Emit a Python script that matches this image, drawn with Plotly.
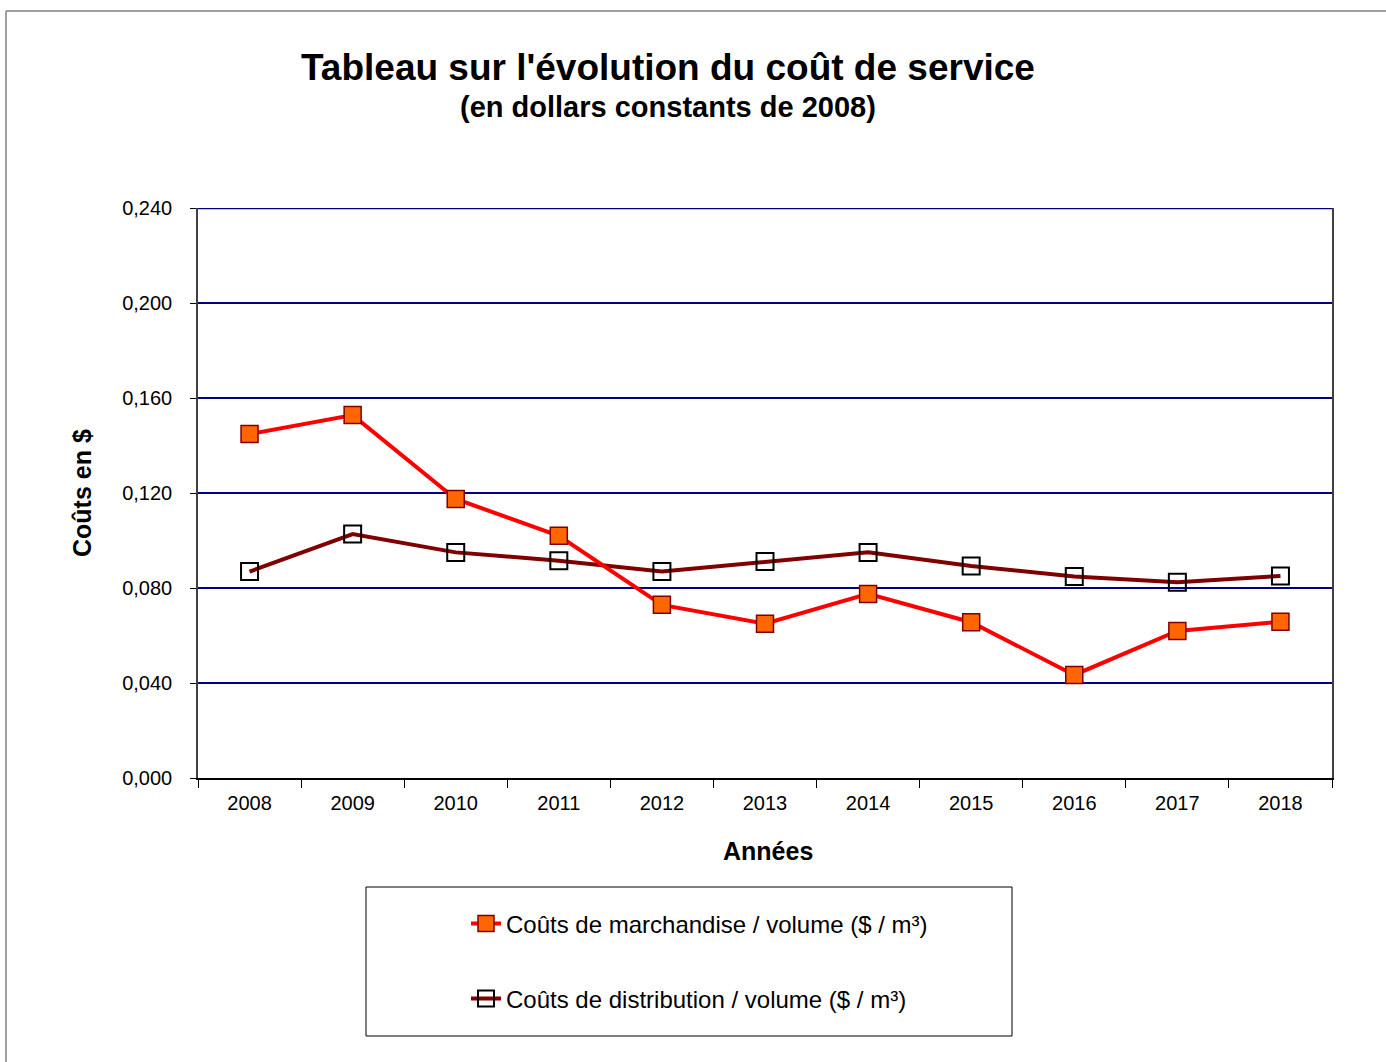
import plotly.graph_objects as go

years = ["2008", "2009", "2010", "2011", "2012", "2013", "2014", "2015", "2016", "2017", "2018"]
marchandise = [0.1448, 0.1528, 0.1175, 0.1020, 0.0729, 0.0650, 0.0775, 0.0656, 0.0434, 0.0619, 0.0658]
distribution = [0.0869, 0.1027, 0.0950, 0.0915, 0.0870, 0.0912, 0.0950, 0.0893, 0.0848, 0.0824, 0.0851]
y_ticks = [0.0, 0.04, 0.08, 0.12, 0.16, 0.20, 0.24]

name_m = "Coûts de marchandise / volume ($ / m³)"
name_d = "Coûts de distribution / volume ($ / m³)"

W, H = 1386, 1062
L, R, T, B = 198, 1332, 208, 778
pw, ph = R - L, B - T


def px(x):
    return (x - L) / pw


def py(y):
    return (B - y) / ph


FONT = "Liberation Sans, Arial, sans-serif"

fig = go.Figure()
fig.add_trace(go.Scatter(
    x=years, y=distribution, name=name_d, mode="lines+markers",
    line=dict(color="#800000", width=4),
    marker=dict(symbol="square-open", size=17, color="#000000", line=dict(width=2, color="#000000")),
    legend="legend2",
))
fig.add_trace(go.Scatter(
    x=years, y=marchandise, name=name_m, mode="lines+markers",
    line=dict(color="#FF0000", width=4),
    marker=dict(symbol="square", size=17, color="#FF6600", line=dict(width=1.5, color="#800000")),
    legend="legend",
))

leg_x = px(466)
fig.update_layout(
    width=W, height=H,
    margin=dict(l=L, r=W - R, t=T, b=H - B, pad=0),
    paper_bgcolor="white", plot_bgcolor="white",
    font=dict(family=FONT, color="black"),
    showlegend=True,
    legend=dict(x=leg_x, y=py(924), xanchor="left", yanchor="middle",
                bgcolor="rgba(0,0,0,0)", font=dict(size=24, family=FONT)),
    legend2=dict(x=leg_x, y=py(999), xanchor="left", yanchor="middle",
                 bgcolor="rgba(0,0,0,0)", font=dict(size=24, family=FONT)),
    xaxis=dict(
        type="category", range=[-0.5, len(years) - 0.5],
        showline=True, linecolor="#000000", linewidth=1.5,
        ticks="outside", tickson="boundaries", ticklen=8, tickcolor="#000000", tickwidth=1,
        showgrid=False, tickfont=dict(size=20, family=FONT),
        ticklabelstandoff=6,
    ),
    yaxis=dict(
        range=[0, 0.24], tickvals=y_ticks, tickformat=".3f",
        showline=True, linecolor="#404040", linewidth=1.5, mirror=True,
        ticks="outside", ticklen=6, tickcolor="#000000",
        showgrid=True, gridcolor="#000080", gridwidth=2,
        zeroline=False, tickfont=dict(size=20, family=FONT),
        ticklabelstandoff=14,
    ),
    separators=", ",
    shapes=[
        dict(type="line", xref="paper", yref="y",
             x0=0, x1=1, y0=y_ticks[-1], y1=y_ticks[-1],
             line=dict(color="#000080", width=2.5), layer="above"),
        dict(type="rect", xref="paper", yref="paper",
             x0=px(366), x1=px(1012), y0=py(1036), y1=py(887),
             line=dict(color="#000000", width=1)),
        dict(type="line", xref="paper", yref="paper",
             x0=px(6), x1=px(6), y0=py(11), y1=py(1100),
             line=dict(color="#7f7f7f", width=1.5)),
        dict(type="line", xref="paper", yref="paper",
             x0=px(6), x1=px(1400), y0=py(11), y1=py(11),
             line=dict(color="#7f7f7f", width=1.5)),
    ],
    annotations=[
        dict(text="<b>Tableau sur l'évolution du coût de service</b>", xref="paper", yref="paper",
             x=px(668), y=py(68), xanchor="center", yanchor="middle", showarrow=False,
             font=dict(size=37, family=FONT)),
        dict(text="<b>(en dollars constants de 2008)</b>", xref="paper", yref="paper",
             x=px(668), y=py(107), xanchor="center", yanchor="middle", showarrow=False,
             font=dict(size=29, family=FONT)),
        dict(text="<b>Coûts en $</b>", xref="paper", yref="paper",
             x=px(82), y=py(493), xanchor="center", yanchor="middle", showarrow=False,
             textangle=-90, font=dict(size=25, family=FONT)),
        dict(text="<b>Années</b>", xref="paper", yref="paper",
             x=px(768), y=py(851), xanchor="center", yanchor="middle", showarrow=False,
             font=dict(size=25, family=FONT)),
    ],
)

fig.write_html("out.html", config={"displayModeBar": False},
               post_script="document.body.style.margin='0';document.body.style.overflow='hidden';")
